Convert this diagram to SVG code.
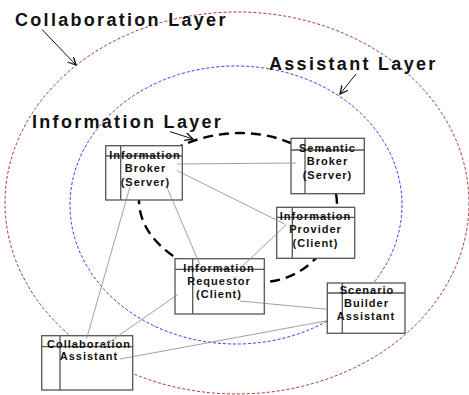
<svg xmlns="http://www.w3.org/2000/svg" width="469" height="395" viewBox="0 0 469 395">
<defs>
<style>
.title{font-family:"Liberation Sans",Arial,sans-serif;font-weight:bold;font-size:18px;letter-spacing:2.3px;fill:#111}
.lbl{font-family:"Liberation Sans",Arial,sans-serif;font-weight:bold;font-size:11px;letter-spacing:1px;fill:#111;text-anchor:middle}
.box{fill:#fff;stroke:#555;stroke-width:1.3}
.div{stroke:#555;stroke-width:1.3;fill:none}
.conn{stroke:#888;stroke-width:0.8;fill:none}
.ptr{stroke:#111;stroke-width:1;fill:none}
</style>
<marker id="ah" markerWidth="10" markerHeight="10" refX="8" refY="4" orient="auto" markerUnits="userSpaceOnUse">
<path d="M0,0 L8,4 L0,8" fill="none" stroke="#111" stroke-width="1.3"/>
</marker>
</defs>
<rect width="469" height="395" fill="#fff"/>
<g id="layers">
<ellipse cx="237" cy="203" rx="232" ry="191" fill="none" stroke="#a83434" stroke-width="1" stroke-dasharray="3 2"/>
<ellipse cx="236" cy="205" rx="166" ry="139" fill="none" stroke="#3333ff" stroke-width="1" stroke-dasharray="3 2"/>
<path d="M139,200 C139,160 190,133 240,133 C290,133 337,160 337,205 C337,250 300,282 262,282 C205,282 139,250 139,200 Z" fill="none" stroke="#000" stroke-width="2.4" stroke-dasharray="10 6"/>
</g>
<g id="titles">
<text class="title" x="15" y="26">Collaboration Layer</text>
<text class="title" x="269" y="70">Assistant Layer</text>
<text class="title" x="32" y="128">Information Layer</text>
<line class="ptr" x1="42" y1="29.5" x2="76" y2="65" marker-end="url(#ah)"/>
<line class="ptr" x1="356" y1="74" x2="340" y2="94" marker-end="url(#ah)"/>
<line class="ptr" x1="170" y1="131.7" x2="193" y2="139" marker-end="url(#ah)"/>
</g>
<g id="information-broker">
<rect class="box" x="105.7" y="145.7" width="76.6" height="54.3"/>
<line class="div" x1="120.7" y1="145.7" x2="120.7" y2="200"/>
<line class="div" x1="105.7" y1="156" x2="182.3" y2="156"/>
<text class="lbl" x="145" y="159">Information</text>
<text class="lbl" x="145.5" y="172">Broker</text>
<text class="lbl" x="145.5" y="185.5">(Server)</text>
</g>
<g id="semantic-broker">
<rect class="box" x="291" y="138.3" width="73.3" height="55.4"/>
<line class="div" x1="305" y1="138.3" x2="305" y2="193.7"/>
<line class="div" x1="291" y1="150" x2="364.3" y2="150"/>
<text class="lbl" x="327.5" y="152">Semantic</text>
<text class="lbl" x="327.5" y="165.3">Broker</text>
<text class="lbl" x="327.5" y="178.6">(Server)</text>
</g>
<g id="information-provider">
<rect class="box" x="276.7" y="207.3" width="78" height="51"/>
<line class="div" x1="292.3" y1="207.3" x2="292.3" y2="258.3"/>
<line class="div" x1="276.7" y1="217.3" x2="354.7" y2="217.3"/>
<text class="lbl" x="315.5" y="220">Information</text>
<text class="lbl" x="315.5" y="233.3">Provider</text>
<text class="lbl" x="315.5" y="246.7">(Client)</text>
</g>
<g id="information-requestor">
<rect class="box" x="175" y="258.7" width="89.3" height="55.3"/>
<line class="div" x1="192.7" y1="258.7" x2="192.7" y2="314"/>
<line class="div" x1="175" y1="269.3" x2="264.3" y2="269.3"/>
<text class="lbl" x="219" y="272">Information</text>
<text class="lbl" x="219" y="284.5">Requestor</text>
<text class="lbl" x="219" y="297.5">(Client)</text>
</g>
<g id="scenario-builder-assistant">
<rect class="box" x="327.3" y="283" width="77.7" height="50.3"/>
<line class="div" x1="342.3" y1="283" x2="342.3" y2="333.3"/>
<line class="div" x1="327.3" y1="293" x2="405" y2="293"/>
<text class="lbl" x="367" y="293.5">Scenario</text>
<text class="lbl" x="366.5" y="306.8">Builder</text>
<text class="lbl" x="366" y="320">Assistant</text>
</g>
<g id="collaboration-assistant">
<rect class="box" x="41.7" y="335.7" width="91" height="54.3"/>
<line class="div" x1="60" y1="335.7" x2="60" y2="390"/>
<line class="div" x1="41.7" y1="346.7" x2="132.7" y2="346.7"/>
<text class="lbl" x="89" y="347.5">Collaboration</text>
<text class="lbl" x="89" y="360.3">Assistant</text>
</g>
<g id="connectors">
<line class="conn" x1="177" y1="164" x2="296" y2="163"/>
<line class="conn" x1="177.3" y1="170.7" x2="285.5" y2="224.5"/>
<line class="conn" x1="286" y1="225" x2="241.7" y2="266.7"/>
<line class="conn" x1="130" y1="186.7" x2="86.7" y2="338.3"/>
<line class="conn" x1="166.7" y1="186.7" x2="200" y2="265"/>
<line class="conn" x1="177.7" y1="294.5" x2="100" y2="348.5"/>
<line class="conn" x1="240" y1="301" x2="327.3" y2="309.3"/>
<line class="conn" x1="120" y1="359" x2="327.3" y2="320.7"/>
</g>
</svg>
